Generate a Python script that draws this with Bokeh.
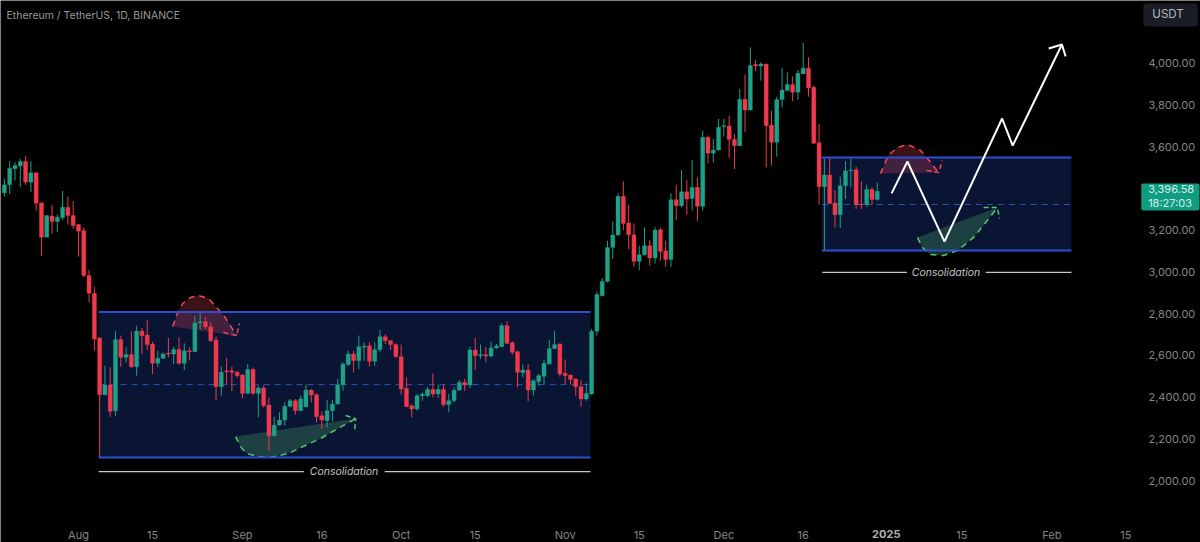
from bokeh.plotting import figure
from bokeh.models import Label, FixedTicker, ColumnDataSource, Range1d, NumeralTickFormatter, BoxAnnotation
from bokeh.embed import file_html
from bokeh.resources import INLINE

FIRST_DAY = -14  # Jul 18 2024, days counted from Aug 1
open_ = [3380,3418,3495,3508,3530,3431,3476,3332,3167,3269,3242,3260,3311,3271,3228,3199,2983,2898,2684,2412,2458,2335,2676,2591,2604,2546,2717,2698,2655,2562,2586,2612,2607,2629,2562,2623,2618,2756,2762,2738,2674,2450,2527,2527,2519,2506,2418,2533,2418,2444,2362,2215,2266,2290,2356,2383,
 2335,2354,2434,2412,2311,2287,2335,2367,2460,2556,2607,2575,2639,2647,2572,2628,2690,2671,2652,2594,2442,2359,2343,2407,2407,2437,2415,2437,2364,2383,2434,2471,2458,2626,2599,2604,2597,2636,2642,2743,2661,2618,2517,2530,2434,2474,2500,2559,2633,2655,2514,2506,2487,2450,2391,2415,2716,
 2886,2955,3118,3177,3363,3235,3179,3051,3083,3126,3067,3203,3102,3060,3347,3318,3385,3353,3406,3315,3646,3569,3585,3697,3700,3636,3606,3828,3777,3995,3988,3998,3705,3622,3827,3870,3899,3862,3950,3977,3886,3620,3409,3465,3331,3275,3414,3486,3491,3326,3323,3396,3348]
high = [3447,3532,3527,3543,3556,3532,3476,3332,3271,3322,3276,3388,3362,3340,3231,3212,3010,2930,2687,2551,2543,2716,2695,2639,2716,2743,2732,2772,2666,2623,2615,2684,2642,2687,2658,2639,2788,2815,2783,2759,2690,2548,2588,2546,2527,2511,2559,2543,2455,2455,2399,2306,2327,2375,2391,2391,
 2407,2460,2439,2418,2332,2386,2386,2487,2567,2623,2623,2695,2663,2663,2663,2722,2703,2674,2658,2652,2495,2364,2415,2423,2450,2514,2460,2460,2415,2447,2482,2487,2642,2684,2652,2642,2666,2655,2754,2764,2668,2623,2556,2559,2485,2511,2581,2674,2716,2658,2581,2511,2490,2482,2466,2727,2908,
 2971,3150,3243,3377,3435,3323,3233,3126,3214,3153,3214,3214,3150,3377,3419,3489,3441,3537,3454,3678,3654,3638,3734,3734,3750,3662,3878,3947,4078,4017,4006,3998,3774,3841,3979,3958,3937,3969,4099,4030,3894,3710,3542,3545,3393,3457,3531,3542,3505,3435,3419,3406,3430]
low = [3362,3375,3439,3407,3418,3383,3295,3079,3167,3183,3191,3250,3228,3207,3074,2975,2855,2623,2111,2412,2306,2311,2546,2567,2540,2503,2607,2626,2511,2543,2583,2591,2559,2556,2530,2578,2618,2722,2727,2663,2386,2407,2458,2428,2492,2396,2418,2412,2303,2351,2143,2215,2263,2263,2351,2316,
 2332,2351,2375,2279,2247,2255,2284,2364,2431,2551,2519,2535,2575,2546,2551,2615,2655,2626,2588,2412,2354,2303,2335,2383,2399,2399,2396,2354,2327,2375,2431,2431,2444,2530,2583,2567,2591,2631,2639,2655,2604,2447,2495,2380,2407,2455,2463,2556,2631,2498,2463,2460,2407,2354,2383,2412,2695,
 2883,2950,3062,3174,3201,3110,3025,3009,3078,3030,3041,3054,3025,3025,3249,3310,3275,3294,3246,3294,3521,3526,3582,3649,3547,3494,3606,3670,3774,3963,3918,3502,3510,3553,3790,3870,3819,3825,3950,3841,3614,3323,3102,3326,3214,3211,3350,3406,3302,3302,3313,3323,3342]
close = [3418,3498,3511,3530,3431,3476,3330,3167,3271,3242,3263,3311,3271,3223,3196,2983,2898,2679,2412,2458,2332,2676,2591,2604,2546,2717,2695,2652,2562,2586,2607,2607,2629,2562,2623,2618,2756,2762,2738,2671,2450,2519,2522,2519,2503,2418,2533,2418,2444,2359,2215,2266,2290,2356,2383,2335,
 2391,2434,2410,2306,2290,2335,2367,2460,2559,2607,2575,2642,2645,2572,2628,2690,2671,2652,2594,2439,2354,2343,2407,2415,2437,2415,2437,2364,2383,2434,2471,2458,2626,2599,2604,2597,2636,2645,2743,2658,2615,2519,2530,2434,2479,2503,2562,2633,2652,2511,2503,2485,2450,2391,2418,2716,2892,
 2955,3118,3177,3363,3233,3179,3051,3083,3126,3067,3201,3099,3060,3347,3318,3385,3350,3406,3315,3646,3569,3585,3694,3702,3636,3606,3828,3777,3990,3988,3998,3702,3622,3827,3873,3899,3862,3953,3977,3883,3617,3409,3465,3329,3275,3414,3486,3489,3323,3323,3396,3348,3387]
n_fix = min(len(open_), len(high), len(low), len(close))
days = [FIRST_DAY + i for i in range(n_fix)]

x_tick_days = [0,14,31,46,61,75,92,106,122,137,153,167,184,198]
x_tick_labels = ["Aug","15","Sep","16","Oct","15","Nov","15","Dec","16","","15","Feb","15"]
y_ticks = [2000,2200,2400,2600,2800,3000,3200,3600,3800,4000]

box1_days, box1_top, box1_bottom, box1_mid = [3.8, 96.8], 2808, 2111, 2460
box2_days, box2_top, box2_bottom, box2_mid = [140.5, 187.7], 3549, 3103, 3324
cons1 = dict(y=2043, a=[3.8, 42.6], b=[57.9, 96.8], tx=50.2)
cons2 = dict(y=2998, a=[140.6, 156.6], b=[171.5, 187.7], tx=164.0)

red1_x = [17.8,18.7,19.7,21.2,22.7,24.6,26.3,27.6,28.7,29.9]
red1_y = [2739,2801,2849,2878,2887,2873,2825,2787,2743,2695]
red1_head_x, red1_head_y = [27.4,29.9,30.4], [2710,2695,2753]
green1_x = [29.7,30.6,31.8,33.8,35.9,38.1,40.1,42,45.7,49,52.4]
green1_y = [2211,2163,2130,2115,2110,2120,2134,2158,2201,2249,2297]
green1_head_x, green1_head_y = [50.5,52.4,52.2], [2312,2297,2235]
red2_x = [151.6,153.1,154.8,156.7,159.2,161.1,162.6]
red2_y = [3472,3559,3597,3612,3583,3525,3477]
red2_head_x, red2_head_y = [160.3,162.6,163.3], [3487,3477,3535]
green2_x = [158.6,159.5,161.1,163.5,166.2,169.2,171.8,173.7]
green2_y = [3166,3118,3084,3079,3103,3166,3247,3309]
green2_head_x, green2_head_y = [171.1,173.7,174.1], [3309,3309,3257]
path_x = [153.7,156.7,163.7,174.6,176.6,185.9]
path_y = [3377,3530,3146,3736,3606,4091]
path_head_x, path_head_y = [183.4,185.9,186.6], [4072,4091,4034]

GREEN, RED = "#1fa187", "#ef3a4c"
BLUE, NAVY = "#2c50d2", "#0a1534"
FONT = "Inter"
GREY = "#858585"

p = figure(width=1200, height=542,
           output_backend="svg", toolbar_location=None, min_border=0,
           x_range=Range1d(-14.74, 212.1), y_range=Range1d(1703, 4302),
           x_axis_location="below", y_axis_location="right",
           background_fill_color="#000000", border_fill_color="#000000")
p.outline_line_color = None
p.grid.visible = False

# boxes
for d, top, bot, mid in ((box1_days, box1_top, box1_bottom, box1_mid), (box2_days, box2_top, box2_bottom, box2_mid)):
    p.quad(left=d[0], right=d[1], top=top, bottom=bot, fill_color=NAVY, line_color=None)
    p.line(d, [mid, mid], line_color="#2f55b8", line_width=1, line_dash=[6, 5])

# dome / bowl sketches
for xs, ys, hx, hy, c in ((red1_x, red1_y, red1_head_x, red1_head_y, "#f0485a"),
                          (red2_x, red2_y, red2_head_x, red2_head_y, "#f0485a"),
                          (green1_x, green1_y, green1_head_x, green1_head_y, "#58c46e"),
                          (green2_x, green2_y, green2_head_x, green2_head_y, "#58c46e")):
    p.patch(xs, ys, fill_color=c, fill_alpha=0.25, line_color=None)
    p.line(xs, ys, line_color=c, line_width=1.5, line_dash=[6, 5])
    p.line(hx, hy, line_color=c, line_width=1.5, line_dash=[5, 3])

# candles
cols = [GREEN if c >= o else RED for o, c in zip(open_, close)]
src = ColumnDataSource(dict(d=days, o=open_[:n_fix], h=high[:n_fix], l=low[:n_fix], c=close[:n_fix], col=cols[:n_fix]))
p.segment("d", "h", "d", "l", source=src, line_color="col", line_width=1)
p.vbar("d", width=0.78, top="o", bottom="c", source=src, fill_color="col", line_color="col", line_width=0.3)

# box edges
for d, top, bot in ((box1_days, box1_top, box1_bottom), (box2_days, box2_top, box2_bottom)):
    p.line(d, [top, top], line_color=BLUE, line_width=2)
    p.line(d, [bot, bot], line_color=BLUE, line_width=2)

# consolidation rulers
for c in (cons1, cons2):
    p.line(c["a"], [c["y"], c["y"]], line_color="#c8c8c8", line_width=1.3)
    p.line(c["b"], [c["y"], c["y"]], line_color="#c8c8c8", line_width=1.3)
    p.add_layout(Label(x=c["tx"], y=c["y"], text="Consolidation", text_font=FONT, text_font_style="italic",
                       text_font_size="10.5px", text_color="#c4c4c4", text_align="center", text_baseline="middle"))

# projected path
p.line(path_x, path_y, line_color="#ffffff", line_width=2)
p.line(path_head_x, path_head_y, line_color="#ffffff", line_width=2)

# axes sit inside the full-canvas frame, at fixed data locations
ax = p.xaxis[0]
ax.fixed_location = 1837
ax.ticker = FixedTicker(ticks=x_tick_days)
ax.major_label_overrides = dict(zip(x_tick_days, x_tick_labels))
ax.axis_line_color = None
ax.major_tick_line_color = None
ax.minor_tick_line_color = None
ax.major_tick_out = 0
ax.major_tick_in = 0
ax.major_label_text_color = GREY
ax.major_label_text_font = FONT
ax.major_label_text_font_size = "11px"
ax.major_label_standoff = 13

ay = p.yaxis[0]
ay.fixed_location = 201.32
ay.ticker = FixedTicker(ticks=y_ticks)
ay.formatter = NumeralTickFormatter(format="0,0.00")
ay.axis_line_color = None
ay.major_tick_line_color = None
ay.minor_tick_line_color = None
ay.major_tick_out = 0
ay.major_tick_in = 0
ay.major_label_text_color = GREY
ay.major_label_text_font = FONT
ay.major_label_text_font_size = "11px"
ay.major_label_standoff = 5

p.add_layout(Label(x=152.7, y=1746, text="2025", text_font=FONT, text_font_style="bold",
                   text_font_size="11px", text_color="#b0b0b0", text_align="center", text_baseline="middle"))
p.add_layout(Label(x=-13.6, y=4230, text="Ethereum / TetherUS, 1D, BINANCE",
                   text_font=FONT, text_font_size="10.5px", text_color="#9a9a9a", text_baseline="middle"))
p.add_layout(BoxAnnotation(left=200.9, right=211.9, top=3424, bottom=3295, fill_color="#109c80", fill_alpha=1,
                           line_color=None, border_radius=2))
p.add_layout(Label(x=202.2, y=3396.58, text="3,396.58", text_font=FONT, text_font_size="11px",
                   text_color="#d5f0ea", text_baseline="middle"))
p.add_layout(Label(x=202.2, y=3333, text="18:27:03", text_font=FONT, text_font_size="11px",
                   text_color="#d5f0ea", text_baseline="middle"))
p.add_layout(BoxAnnotation(left=201.3, right=211.6, top=4288, bottom=4177, fill_color="#1a1d26", fill_alpha=1,
                           line_color=None, border_radius=4))
p.add_layout(Label(x=203, y=4235, text="USDT", text_font=FONT, text_font_size="11.5px", text_color="#b8b8b8",
                   text_baseline="middle"))

open("out.html", "w").write(file_html(p, INLINE))
